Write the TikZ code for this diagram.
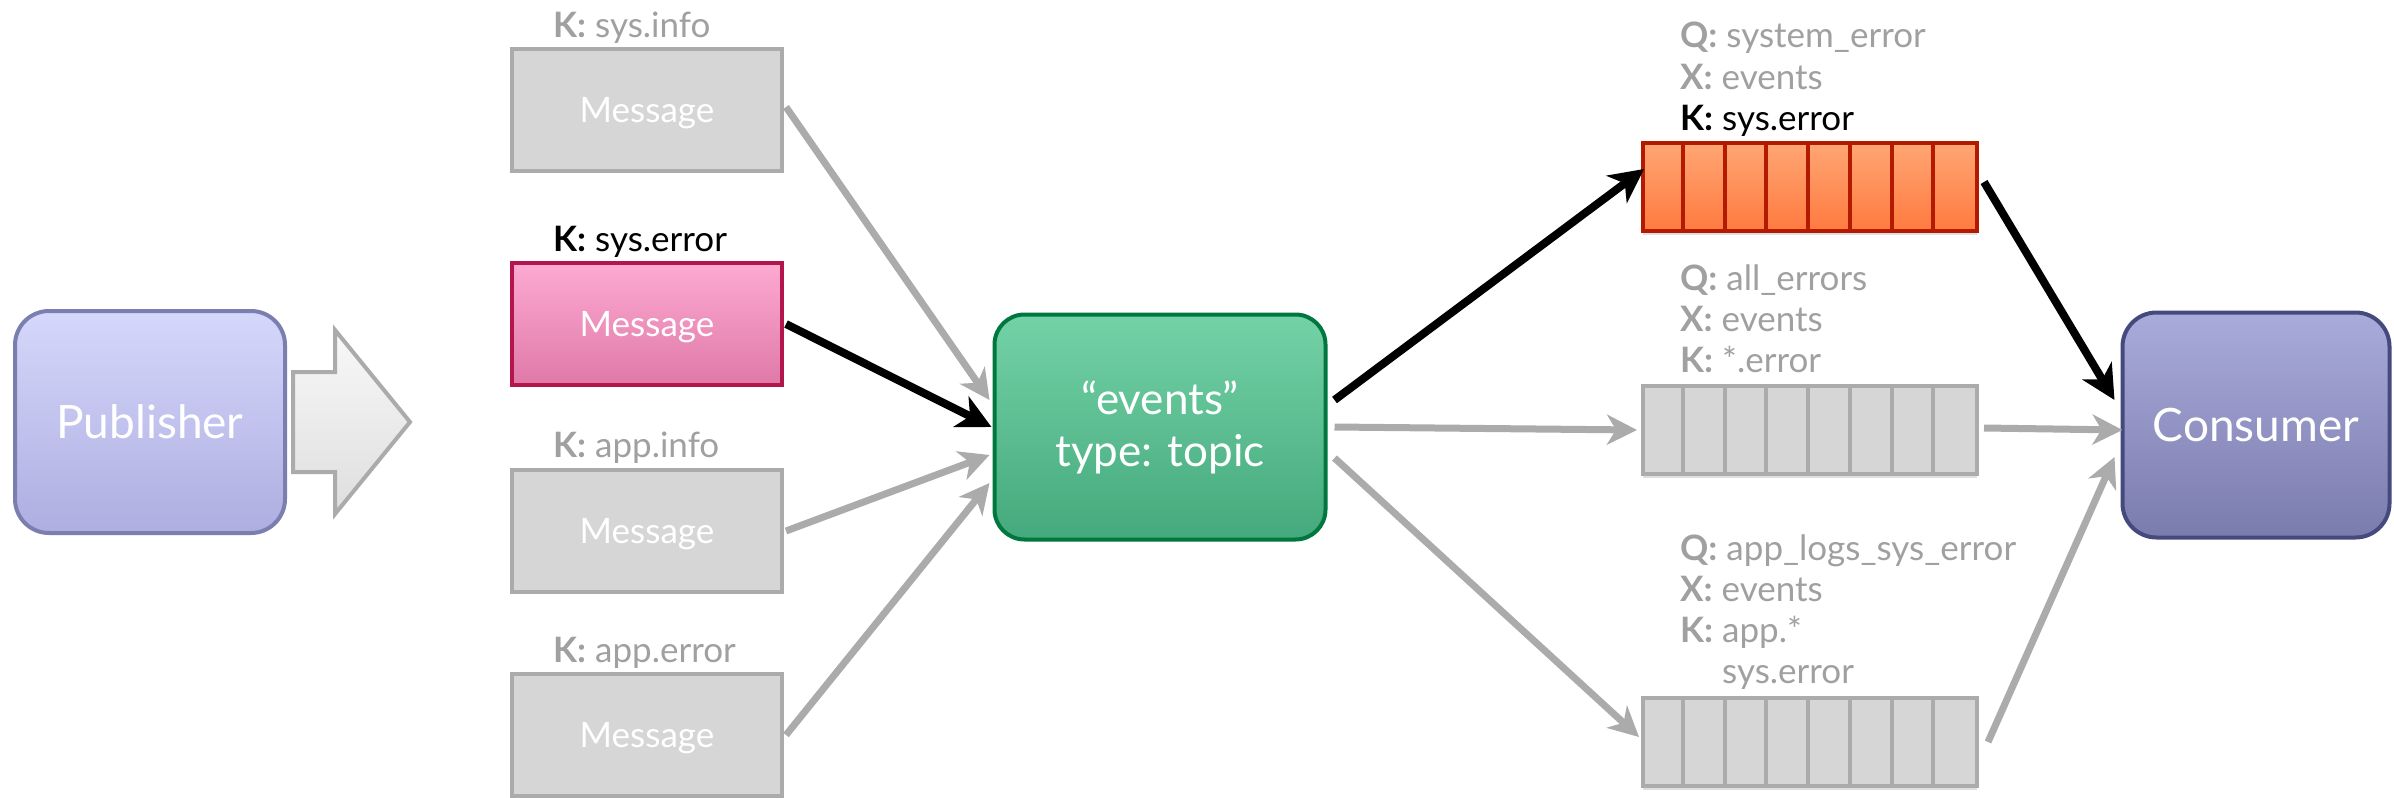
\documentclass[tikz,border=0pt]{standalone}
\usepackage{fontspec}
\setmainfont{Lato}
\usetikzlibrary{arrows.meta,shadows}
\definecolor{pubtop}{HTML}{D5D7FB}
\definecolor{pubbot}{HTML}{AEAEE0}
\definecolor{pubedge}{HTML}{7B7FB0}
\definecolor{contop}{HTML}{A9ABDA}
\definecolor{conbot}{HTML}{7B7CAE}
\definecolor{conedge}{HTML}{454A7E}
\definecolor{extop}{HTML}{74D2A7}
\definecolor{exbot}{HTML}{44A97C}
\definecolor{exedge}{HTML}{00773F}
\definecolor{pinktop}{HTML}{FDAAD2}
\definecolor{pinkbot}{HTML}{DF79A8}
\definecolor{pinkedge}{HTML}{B2164A}
\definecolor{msgfill}{HTML}{D6D6D6}
\definecolor{msgedge}{HTML}{ABABAB}
\definecolor{ortop}{HTML}{FFA673}
\definecolor{orbot}{HTML}{FF7A40}
\definecolor{oredge}{HTML}{B31A00}
\definecolor{lblgrey}{HTML}{A0A0A0}
\definecolor{arrgrey}{HTML}{ABABAB}
\definecolor{bigtop}{HTML}{F8F8F8}
\definecolor{bigbot}{HTML}{DEDEDE}
\tikzset{
  x=1pt, y=-1pt,
  bignode/.style={rounded corners=34pt, line width=4pt, minimum width=270pt, minimum height=222pt,
    text=white, font=\fontsize{46}{54}\selectfont, align=center},
  msgbox/.style={rectangle, line width=4pt, minimum width=270pt, minimum height=122pt,
    text=white, text depth=0pt, font=\fontsize{35}{40}\selectfont},
  greymsg/.style={msgbox, draw=msgedge, fill=msgfill},
  pinkmsg/.style={msgbox, draw=pinkedge, top color=pinktop, bottom color=pinkbot},
  queuebox/.style={rectangle, line width=4pt, minimum width=334pt, minimum height=88pt,
    drop shadow={opacity=0.25, shadow xshift=0pt, shadow yshift=-4pt}},
  greyqueue/.style={queuebox, draw=msgedge, fill=msgfill},
  orqueue/.style={queuebox, draw=oredge, top color=ortop, bottom color=orbot},
  lbl/.style={anchor=base west, inner sep=0pt, text=lblgrey, font=\fontsize{35}{41}\selectfont},
  greyarrow/.style={draw=arrgrey, line width=7pt, -{Stealth[length=30pt,width=30pt,inset=9pt]}},
  blackarrow/.style={draw=black, line width=8pt, -{Stealth[length=34pt,width=34pt,inset=10pt]}},
}
\begin{document}
\begin{tikzpicture}
\useasboundingbox (0,0) rectangle (2394,798);

% Publisher
\node[bignode, draw=pubedge, top color=pubtop, bottom color=pubbot] (pub) at (150,422) {Publisher};
% big hollow arrow
\draw[draw=arrgrey, line width=4pt, line join=miter, top color=bigtop, bottom color=bigbot]
  (293,372) -- (335,372) -- (335,330) -- (410,422) -- (335,514) -- (335,472) -- (293,472) -- cycle;

% Messages
\node[greymsg] (m1) at (647,110) {Message};
\node[pinkmsg] (m2) at (647,324) {Message};
\node[greymsg] (m3) at (647,531) {Message};
\node[greymsg] (m4) at (647,735) {Message};
\node[lbl] (k1) at (553,37) {\textbf{K:} sys.info};
\node[lbl, text=black] (k2) at (553,251) {\textbf{K:} sys.error};
\node[lbl] (k3) at (553,457) {\textbf{K:} app.info};
\node[lbl] (k4) at (553,662) {\textbf{K:} app.error};

% Exchange
\node[bignode, rounded corners=30pt, minimum width=331pt, minimum height=225pt, font=\fontsize{44}{58}\selectfont,
  draw=exedge, top color=extop, bottom color=exbot] (ex) at (1160,427) {\raisebox{-6pt}{“events”}\\type: topic};

% Queues
\node[orqueue] (q1) at (1810,187) {};
\node[greyqueue] (q2) at (1810,430) {};
\node[greyqueue] (q3) at (1810,742) {};
\foreach \q/\c in {q1/oredge, q2/msgedge, q3/msgedge}{
  \foreach \i in {1,...,7}{
    \draw[line width=4pt, draw=\c] ([xshift=\i*41.75pt]\q.north west) -- ([xshift=\i*41.75pt]\q.south west);
  }
}
\node[lbl] (ql1q) at (1680,47) {\textbf{Q:} system\_error};
\node[lbl] (ql1x) at (1680,89) {\textbf{X:} events};
\node[lbl, text=black] (ql1k) at (1680,130) {\textbf{K:} sys.error};
\node[lbl] (ql2q) at (1680,290) {\textbf{Q:} all\_errors};
\node[lbl] (ql2x) at (1680,331) {\textbf{X:} events};
\node[lbl] (ql2k) at (1680,372) {\textbf{K:} *.error};
\node[lbl] (ql3q) at (1680,560) {\textbf{Q:} app\_logs\_sys\_error};
\node[lbl] (ql3x) at (1680,601) {\textbf{X:} events};
\node[lbl] (ql3k) at (1680,642) {\textbf{K:} app.*};
\node[lbl] (ql3k2) at (1680,683) {\phantom{\textbf{K:} }sys.error};

% Consumer
\node[bignode, minimum width=267pt, minimum height=225pt, draw=conedge, top color=contop, bottom color=conbot] (con) at (2256,425) {Consumer};

% Connectors
\draw[greyarrow] ([xshift=2pt,yshift=3pt]m1.east) -- ([xshift=-3pt,yshift=27pt]ex.west);
\draw[blackarrow] ([xshift=2pt]m2.east) -- ([xshift=-1pt]ex.west);
\draw[greyarrow] ([xshift=2pt]m3.east) -- ([xshift=-3pt,yshift=-28pt]ex.west);
\draw[greyarrow] ([xshift=2pt]m4.east) -- ([xshift=-3pt,yshift=-56pt]ex.west);

\draw[blackarrow] ([xshift=7pt,yshift=27pt]ex.east) -- ([xshift=3pt,yshift=18pt]q1.west);
\draw[greyarrow] ([xshift=7pt]ex.east) -- ([xshift=-4pt]q2.west);
\draw[greyarrow] ([xshift=7pt,yshift=-31pt]ex.east) -- ([xshift=-2pt,yshift=5pt]q3.west);

\draw[blackarrow] ([xshift=5pt,yshift=5pt]q1.east) -- ([xshift=-6pt,yshift=25pt]con.west);
\draw[greyarrow] ([xshift=5pt,yshift=2pt]q2.east) -- ([xshift=2pt,yshift=-5pt]con.west);
\draw[greyarrow] ([xshift=9pt]q3.east) -- ([xshift=-6pt,yshift=-32pt]con.west);
\end{tikzpicture}
\end{document}
